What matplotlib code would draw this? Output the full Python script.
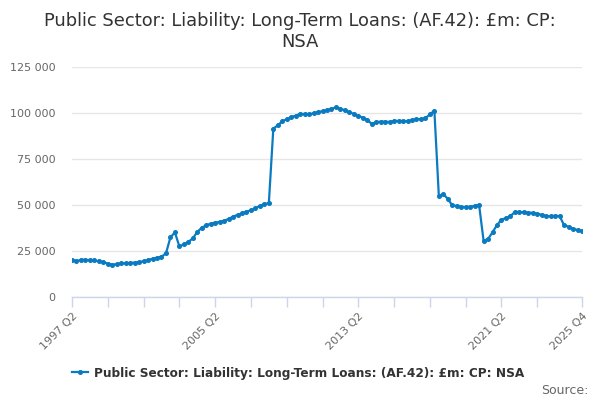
import matplotlib
matplotlib.use("Agg")
import matplotlib.pyplot as plt
from matplotlib.ticker import FuncFormatter, FixedLocator

plt.rcParams['font.family'] = ['DejaVu Sans']

# quarters 1997 Q2 .. 2025 Q4
quarters = []
for y in range(1997, 2026):
    for q in range(1, 5):
        if y == 1997 and q < 2:
            continue
        quarters.append(f"{y} Q{q}")

values_k = [
    19.9, 19.6, 20.1, 20.3, 19.9, 19.9, 19.4, 19.0, 18.1, 17.6,
    17.8, 18.3, 18.3, 18.5, 18.7, 19.0, 19.4, 20.1, 20.8, 21.4,
    21.9, 23.7, 32.4, 35.1, 27.5, 28.6, 29.9, 31.9, 35.3, 37.7,
    38.9, 39.9, 40.4, 40.8, 41.5, 42.4, 43.7, 44.6, 45.5, 46.4,
    47.1, 48.2, 49.5, 50.5, 51.0, 91.5, 93.3, 95.5, 96.6, 97.8,
    98.5, 99.6, 99.4, 99.3, 99.8, 100.5, 101.0, 101.6, 102.2, 103.1,
    102.4, 101.4, 100.4, 99.5, 98.4, 97.5, 96.4, 94.0, 95.1, 95.3,
    95.3, 95.1, 95.7, 95.7, 95.5, 95.5, 96.2, 96.6, 96.7, 97.1,
    99.3, 101.3, 54.9, 56.0, 53.3, 49.8, 49.5, 49.0, 48.8, 49.0,
    49.6, 50.0, 30.6, 31.5, 35.2, 39.1, 42.0, 42.9, 44.0, 46.2,
    46.2, 46.1, 45.9, 45.7, 45.2, 44.7, 44.0, 43.8, 44.1, 44.0,
    39.0, 38.2, 37.1, 36.4, 35.9,
]
values = [v * 1000 for v in values_k]

tick_labels = ["1997 Q2", "2005 Q2", "2013 Q2", "2021 Q2", "2025 Q4"]
y_ticks = [0, 25000, 50000, 75000, 100000, 125000]

title = "Public Sector: Liability: Long-Term Loans: (AF.42): £m: CP:\nNSA"
series_name = "Public Sector: Liability: Long-Term Loans: (AF.42): £m: CP: NSA"

fig = plt.figure(figsize=(6, 4), dpi=100)
ax = fig.add_axes([72/600, 1-297/400, 510/600, 230/400])

xs = list(range(len(quarters)))
color = '#0b7bc1'
ax.plot(xs, values, color=color, lw=1.6, marker='o', ms=2.6, label=series_name)

ax.set_xlim(0, len(quarters) - 1)
ax.set_ylim(0, 125000)

ax.set_yticks(y_ticks)
ax.yaxis.set_major_formatter(FuncFormatter(lambda v, p: f"{int(v):,}".replace(",", " ")))
ax.grid(axis='y', color='#e6e6e6', lw=1)
ax.set_axisbelow(True)

# x ticks: every 8 quarters up to 2023 Q2, plus last
tick_pos = list(range(0, len(quarters) - 8, 8)) + [len(quarters) - 1]
ax.xaxis.set_major_locator(FixedLocator(tick_pos))
ax.set_xticklabels([quarters[i] if quarters[i] in tick_labels else "" for i in tick_pos],
                   rotation=45, ha='right', rotation_mode='anchor', color='#666666', fontsize=8)
ax.tick_params(axis='x', length=7, color='#ccd6eb', width=1, pad=3)
ax.tick_params(axis='y', length=0, pad=12, labelcolor='#666666', labelsize=8)

for s in ['left', 'right', 'top']:
    ax.spines[s].set_visible(False)
ax.spines['bottom'].set_color('#ccd6eb')
ax.spines['bottom'].set_linewidth(1)

fig.suptitle(title, x=0.5, y=0.97, fontsize=12.9, color='#333333', va='top', linespacing=1.2)

leg = fig.legend(loc='center', bbox_to_anchor=(298/600, 1-373/400), frameon=False,
                 prop={'weight': 'bold', 'size': 8.7}, handlelength=1.3, handletextpad=0.5)
for t in leg.get_texts():
    t.set_color('#333333')

fig.text(589/600, 1-390/400, "Source:", ha='right', va='center', fontsize=9, color='#666666')

fig.savefig("out.png", dpi=100)
